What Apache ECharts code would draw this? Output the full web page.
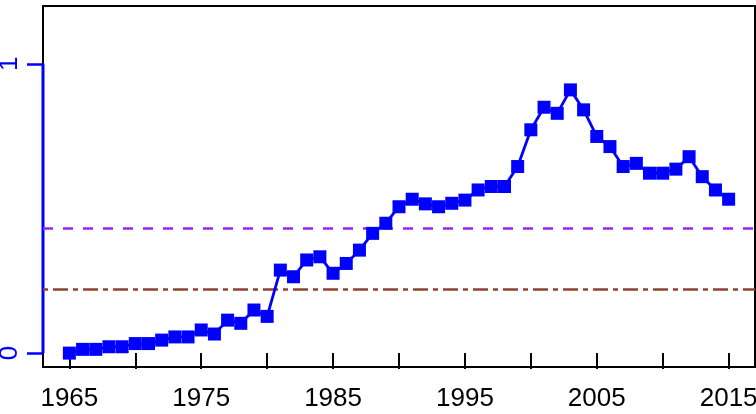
<!DOCTYPE html>
<html>
<head>
<meta charset="utf-8">
<script src="https://cdn.jsdelivr.net/npm/echarts@6/dist/echarts.min.js"></script>
<style>
  html, body { margin: 0; padding: 0; background: #fff; }
  #main { width: 756px; height: 414px; }
</style>
</head>
<body>
<div id="main"></div>
<script>
// years and values
var years = [1965, 1966, 1967, 1968, 1969, 1970, 1971, 1972, 1973, 1974,
    1975, 1976, 1977, 1978, 1979, 1980, 1981, 1982, 1983, 1984,
    1985, 1986, 1987, 1988, 1989, 1990, 1991, 1992, 1993, 1994,
    1995, 1996, 1997, 1998, 1999, 2000, 2001, 2002, 2003, 2004,
    2005, 2006, 2007, 2008, 2009, 2010, 2011, 2012, 2013, 2014, 2015];
var values = [0.000, 0.013, 0.013, 0.022, 0.022, 0.033, 0.033, 0.045, 0.056, 0.056,
    0.080, 0.066, 0.114, 0.103, 0.149, 0.127, 0.287, 0.264, 0.322, 0.333,
    0.276, 0.310, 0.356, 0.414, 0.449, 0.506, 0.532, 0.516, 0.506, 0.518,
    0.529, 0.564, 0.576, 0.576, 0.645, 0.772, 0.850, 0.829, 0.910, 0.841,
    0.749, 0.714, 0.645, 0.656, 0.622, 0.622, 0.636, 0.679, 0.610, 0.564, 0.532];
var xTicks = [1965, 1970, 1975, 1980, 1985, 1990, 1995, 2000, 2005, 2010, 2015];
var xLabels = [1965, 1975, 1985, 1995, 2005, 2015];
var yTicks = [0, 1];
var dashedLevel = 0.426;   // purple dashed
var dotDashLevel = 0.218;  // brown dot-dash

var myChart = echarts.init(document.getElementById('main'));

var seriesData = years.map(function (y, i) { return [y, values[i]]; });

var option = {
    animation: false,
    backgroundColor: '#fff',
    grid: {
        left: 43,
        right: 1,
        top: 6,
        bottom: 47,
        containLabel: false,
        outerBoundsMode: 'none',
        show: true,
        borderColor: '#000',
        borderWidth: 2,
        backgroundColor: 'transparent'
    },
    xAxis: {
        type: 'value',
        min: 1963,
        max: 2017,
        axisLine: { show: false },
        splitLine: { show: false },
        axisTick: {
            show: true,
            length: 16,
            customValues: xTicks,
            lineStyle: { color: '#000', width: 2 }
        },
        axisLabel: {
            customValues: xLabels,
            formatter: function (v) { return String(v); },
            margin: 19,
            color: '#000',
            fontSize: 26,
            fontFamily: 'Liberation Sans'
        }
    },
    yAxis: {
        type: 'value',
        min: -0.048,
        max: 1.2,
        axisLine: { show: false },
        splitLine: { show: false },
        axisTick: {
            show: true,
            length: 16,
            customValues: yTicks,
            lineStyle: { color: '#0000ff', width: 2.5 }
        },
        axisLabel: {
            customValues: yTicks,
            formatter: function (v) { return String(v); },
            rotate: 90,
            margin: 20,
            color: '#0000ff',
            fontSize: 26,
            fontFamily: 'Liberation Sans'
        }
    },
    series: [{
            name: 'ref',
            type: 'line',
            data: [],
            z: 1,
            markLine: {
                silent: true,
                symbol: 'none',
                label: { show: false },
                data: [{
                        yAxis: dashedLevel,
                        lineStyle: { color: '#a020f0', width: 2.5, type: [10, 10] }
                    },
                    {
                        yAxis: dotDashLevel,
                        lineStyle: { color: '#8e4433', width: 2.5, type: [5, 5, 15, 5] }
                    }
                ]
            }
        },
        {
            // blue y axis line from 0 to 1
            name: 'axis',
            type: 'line',
            data: [[1963, 0], [1963, 1]],
            symbol: 'none',
            clip: false,
            z: 3,
            lineStyle: { color: '#0000ff', width: 3 }
        },
        {
            name: 'value',
            type: 'line',
            data: seriesData,
            symbol: 'rect',
            symbolSize: 13,
            z: 5,
            itemStyle: { color: '#0000ff' },
            lineStyle: { color: '#0000ff', width: 2.8 }
        }
    ]
};

myChart.setOption(option);
</script>
</body>
</html>
